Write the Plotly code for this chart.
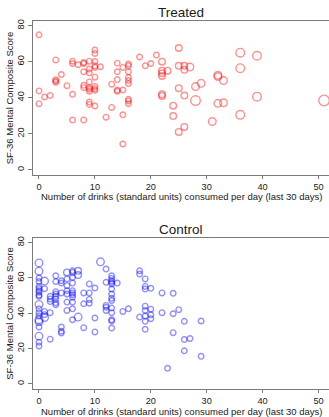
import plotly.graph_objects as go

# ---------------- data ----------------
treated_x = [0, 0, 0, 1, 2, 3, 3, 3, 3, 4, 5, 6, 6, 6, 6, 7, 8, 8, 8, 8, 8, 8,
             9, 9, 9, 9, 9, 9, 9, 9, 9, 10, 10, 10, 10, 10, 10, 10, 10, 10, 10,
             11, 12, 13, 13, 14, 14, 14, 14, 14, 15, 15, 15, 15,
             16, 16, 16, 16, 16, 16, 16, 16, 16, 18, 19, 20, 21,
             22, 22, 22, 22, 22, 22, 23, 24, 24, 25, 25, 25, 25,
             26, 26, 26, 26, 27, 28, 28, 29, 31, 32, 32, 32, 33, 33,
             36, 36, 36, 39, 39, 51]
treated_y = [74.9, 43.8, 36.7, 40.4, 41.3, 61.0, 50.0, 49.3, 48.6, 52.9, 46.7,
             60.3, 59.0, 41.9, 27.6, 58.3, 59.6, 59.0, 54.4, 46.9, 45.6, 27.6,
             60.3, 55.9, 53.8, 48.8, 45.6, 44.7, 43.6, 37.6, 36.3,
             66.5, 64.6, 60.1, 57.7, 56.8, 51.4, 46.2, 45.0, 44.1, 35.4,
             57.2, 29.2, 47.5, 34.6, 59.2, 54.4, 50.1, 44.3, 43.6,
             56.8, 44.3, 30.5, 14.3,
             58.7, 57.7, 54.4, 51.2, 49.5, 47.9, 39.1, 38.2, 36.7,
             62.6, 57.7, 59.0, 63.7,
             60.0, 55.0, 53.6, 52.1, 41.9, 41.0, 55.0, 35.6, 29.8,
             67.6, 57.7, 45.3, 21.0,
             57.7, 55.5, 41.2, 23.8, 57.0, 46.2, 38.4, 48.0, 26.8,
             52.5, 51.8, 36.9, 49.5, 37.2,
             65.0, 56.4, 30.5, 63.3, 40.6, 38.5]
treated_w = [1] * 67 + [2] * 17 + [3, 3, 5, 3, 3, 3, 3, 3, 3, 3, 4, 4, 4, 4, 4, 6]

control_x = ([0] * 20 + [1] * 5 + [2] * 5 + [3] * 8 + [4] * 6 + [5] * 7 + [6] * 11 +
             [7] * 3 + [8] * 3 + [9] * 4 + [10] * 3 + [11] + [12] * 5 + [13] * 14 +
             [14, 15, 16] + [18] * 3 + [19] * 8 + [20] * 4 + [22] * 2 + [23] +
             [24] * 3 + [25] + [26] * 3 + [27] + [29] * 2)
control_y = [68.5, 63.8, 59.9, 57.9, 55.2, 54.0, 52.8, 51.9, 50.2, 49.6, 45.0, 42.5,
             40.3, 38.4, 36.3, 35.2, 32.2, 27.0, 23.6, 21.5,
             58.2, 53.9, 41.0, 39.2, 37.6,
             49.6, 48.1, 46.6, 40.3, 25.3,
             61.2, 57.9, 52.2, 50.9, 49.6, 48.1, 45.9, 44.8,
             58.4, 57.1, 51.5, 32.2, 29.8, 28.8,
             63.1, 59.4, 55.6, 52.8, 50.9, 46.3, 41.6,
             64.0, 63.1, 60.3, 57.1, 52.8, 51.5, 50.4, 49.1, 46.3, 42.5, 36.3,
             64.0, 61.6, 37.8,
             51.5, 45.3, 31.8,
             56.6, 51.5, 47.8, 45.7,
             54.3, 37.3, 29.4,
             69.1,
             65.0, 57.5, 44.4, 43.4, 41.6,
             61.2, 59.7, 58.4, 57.5, 56.6, 53.7, 50.9, 48.5, 47.2, 42.9, 40.3, 36.3, 35.6, 31.6,
             57.1, 41.0, 42.5,
             64.0, 62.2, 37.8,
             59.4, 55.2, 53.7, 44.0, 41.6, 38.4, 35.4, 30.9,
             54.1, 42.3, 39.1, 36.9,
             51.5, 40.3, 8.8,
             51.3, 39.7, 29.0, 42.0,
             35.4, 25.1, 18.7, 25.7,
             35.6, 15.6]
control_w = ([3, 3, 1, 1, 1, 1, 1, 1, 1, 1, 3, 1, 1, 1, 3, 3, 1, 3, 1, 1] +
             [3, 1, 1, 1, 3] + [1] * 5 + [1] * 8 + [1] * 6 + [2, 1, 1, 1, 1, 1, 1] +
             [1] * 11 + [2, 2, 3] + [1] * 3 + [1] * 4 + [1] * 3 + [3] + [1] * 5 +
             [1] * 14 + [1] * 3 + [1] * 3 + [1] * 8 + [1] * 4 + [1] * 3 + [1] * 4 +
             [1] * 4 + [1] * 2)

x_ticks = [0, 10, 20, 30, 40, 50]
y_ticks = [0, 20, 40, 60, 80]
x_title = "Number of drinks (standard units) consumed per day (last 30 days)"
y_title = "SF-36 Mental Composite Score"
panel_titles = ["Treated", "Control"]

# ---------------- figure ----------------
FONT = "Liberation Sans, Arial, sans-serif"
W, H = 329, 417
ML, MR, MT, MB = 33, 0, 21, 28


def sizes(w, base):
    return [base + (v - 1) * 1.0 for v in w]


fig = go.Figure()
fig.add_trace(go.Scatter(
    x=treated_x, y=treated_y, mode="markers", xaxis="x", yaxis="y",
    marker=dict(symbol="circle-open", size=sizes(treated_w, 5.6),
                color="rgba(255,0,0,0.62)", line=dict(width=1.4)),
    showlegend=False, cliponaxis=True, hoverinfo="skip"))
fig.add_trace(go.Scatter(
    x=control_x, y=control_y, mode="markers", xaxis="x2", yaxis="y2",
    marker=dict(symbol="circle-open", size=sizes(control_w, 5.6),
                color="rgba(0,0,255,0.62)", line=dict(width=1.4)),
    showlegend=False, cliponaxis=True, hoverinfo="skip"))

plot_h = H - MT - MB
top_dom = [(H - MB - 175) / plot_h, 1.0]
bot_dom = [0.0, (H - MB - 238) / plot_h]

axis_line = "#7a7a7a"
tickfont = dict(family=FONT, size=9.2, color="#1a1a1a")
titlefont = dict(family=FONT, size=9.5, color="#1a1a1a")

xcommon = dict(range=[-1.07, 51.88], tickvals=x_ticks, ticks="outside", ticklen=3,
               tickwidth=1.2, tickcolor=axis_line, showline=True, linecolor=axis_line,
               linewidth=1.4, mirror=True, showgrid=False, zeroline=False,
               automargin=False, tickfont=tickfont)
ycommon = dict(range=[-2.9, 82.6], tickvals=y_ticks, ticks="outside", ticklen=4,
               tickwidth=1.2, tickcolor=axis_line, showline=True, linecolor=axis_line,
               linewidth=1.4, showgrid=False, zeroline=False, tickangle=-90,
               automargin=False,
               tickfont=tickfont, title=dict(text=y_title, font=titlefont, standoff=0))


def py_to_paper(py):
    return (H - MB - py) / plot_h


def text_note(txt, py, size):
    return dict(text=txt, x=0.5, xref="paper", y=py_to_paper(py), yref="paper",
                xanchor="center", yanchor="middle", showarrow=False,
                font=dict(family=FONT, size=size, color="#1a1a1a"))


fig.update_layout(
    width=W, height=H, margin=dict(l=ML, r=MR, t=MT, b=MB, autoexpand=False),
    paper_bgcolor="white", plot_bgcolor="white",
    xaxis=dict(xcommon, anchor="y"),
    yaxis=dict(ycommon, domain=top_dom, anchor="x"),
    xaxis2=dict(xcommon, anchor="y2"),
    yaxis2=dict(ycommon, domain=bot_dom, anchor="x2"),
    annotations=[
        text_note(panel_titles[0], 12, 13.5),
        text_note(panel_titles[1], 229, 13.5),
        text_note(x_title, 196.5, 9.5),
        text_note(x_title, 411.5, 9.5),
    ],
)

fig.write_html("out.html", config={"displayModeBar": False},
               post_script="document.body.style.margin='0';document.body.style.overflow='hidden';")
